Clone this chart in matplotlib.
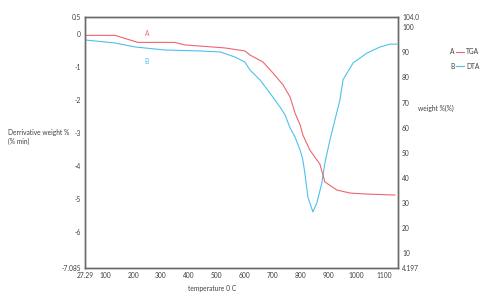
import matplotlib
matplotlib.use("Agg")
import matplotlib.pyplot as plt
from matplotlib.lines import Line2D

plt.rcParams["font.family"] = ["Lato", "DejaVu Sans"]

# TGA (weight %, right axis)
tga_t = [27.3, 135, 217, 350, 386, 529, 601, 619, 666, 702, 738, 763, 781, 799,
         809, 834, 870, 888, 931, 978, 1039, 1139]
tga_w = [96.7, 96.7, 93.9, 93.9, 92.9, 91.7, 90.5, 88.9, 86.1, 81.7, 77.0, 72.2,
         65.8, 61.1, 57.1, 51.1, 45.5, 38.4, 35.2, 34.0, 33.6, 33.2]

# DTA (derivative weight, left axis)
dta_t = [27.3, 135, 207, 314, 440, 512, 565, 601, 619, 655, 691, 727, 745, 763,
         781, 799, 809, 816, 827, 845, 859, 877, 888, 906, 924, 942, 953, 989,
         1039, 1085, 1121, 1146]
dta_d = [-0.195, -0.285, -0.406, -0.497, -0.527, -0.557, -0.708, -0.86, -1.10,
         -1.40, -1.80, -2.22, -2.46, -2.85, -3.13, -3.52, -3.82, -4.21, -4.94,
         -5.39, -5.12, -4.52, -3.91, -3.22, -2.61, -2.01, -1.40, -0.89, -0.59,
         -0.41, -0.32, -0.32]

x_ticks = [27.29, 100, 200, 300, 400, 500, 600, 700, 800, 900, 1000, 1100]
x_labels = ["27.29", "100", "200", "300", "400", "500", "600", "700", "800", "900", "1000", "1100"]
left_ticks = [0.5, 0, -1, -2, -3, -4, -5, -6, -7.085]
left_labels = ["0.5", "0", "-1", "-2", "-3", "-4", "-5", "-6", "-7.085"]
right_ticks = [104.0, 100, 90, 80, 70, 60, 50, 40, 30, 20, 10, 4.197]
right_labels = ["104.0", "100", "90", "80", "70", "60", "50", "40", "30", "20", "10", "4.197"]

red = "#f0646e"
blue = "#4fc0ec"
grey = "#6a6a6a"
txt = "#404040"
fs = 4.8

fig = plt.figure(figsize=(4.8, 2.96), dpi=100)
ax = fig.add_axes([0.177, 0.0946, 0.652, 0.848])
ax2 = ax.twinx()

ax.plot(dta_t, dta_d, color=blue, lw=0.8)
ax2.plot(tga_t, tga_w, color=red, lw=0.8)

ax.set_xlim(27.29, 1150)
ax.set_ylim(-7.085, 0.5)
ax2.set_ylim(4.197, 104.0)

ax.set_xticks(x_ticks, x_labels)
ax.set_yticks(left_ticks, left_labels)
ax2.set_yticks(right_ticks, right_labels)
for a in (ax, ax2):
    a.tick_params(length=0, labelsize=fs, labelcolor=txt, pad=3)
    for s in a.spines.values():
        s.set_color(grey)
        s.set_linewidth(1.0)

ax.text(250, 0.0, "A", color=red, fontsize=fs, ha="center", va="center")
ax.text(250, -0.85, "B", color=blue, fontsize=fs, ha="center", va="center")

fig.text(8 / 480, 1 - 137 / 296, "Derrivative weight %\n(% min)", fontsize=fs,
         ha="left", va="center", color=txt, linespacing=1.4)
fig.text(418 / 480, 1 - 108 / 296, "weight %(%)", fontsize=fs, ha="left",
         va="center", color=txt)
fig.text(188 / 480, 1 - 288 / 296, "temperature 0 C", fontsize=fs, ha="left",
         va="center", color=txt)

# legend
for i, (key, name, col) in enumerate([("A", "TGA", red), ("B", "DTA", blue)]):
    yy = 1 - (52 + 14 * i) / 296
    fig.text(450 / 480, yy, key, fontsize=fs, ha="left", va="center", color=txt)
    fig.lines.append(Line2D([456 / 480, 464 / 480], [yy, yy], color=col, lw=0.8,
                            transform=fig.transFigure))
    fig.text(466 / 480, yy, name, fontsize=fs, ha="left", va="center", color=txt)

fig.savefig("out.png", dpi=100)
